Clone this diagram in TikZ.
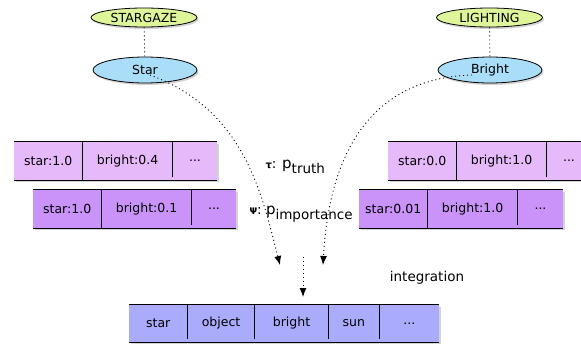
\documentclass[tikz,border=0pt]{standalone}
\usepackage{fontspec}
\setmainfont{DejaVu Sans}
\usetikzlibrary{shapes.geometric,shadows,positioning,arrows.meta,backgrounds}

\definecolor{tagfill}{HTML}{DEF59A}
\definecolor{wordfill}{HTML}{A9DDF8}
\definecolor{rowlight}{HTML}{E6B9FB}
\definecolor{rowdark}{HTML}{C993FA}
\definecolor{intfill}{HTML}{ABABFC}

\begin{document}
\begin{tikzpicture}[x=1pt, y=-1pt,
    every node/.style={font=\fontsize{12.5}{15}\selectfont},
    boxshadow/.style={drop shadow={shadow xshift=1.5pt, shadow yshift=-2pt, opacity=0.35}},
    tag/.style={ellipse, draw, line width=0.8pt, fill=tagfill, boxshadow, inner sep=0pt, minimum width=106pt, minimum height=19pt},
    word/.style={ellipse, draw, line width=0.8pt, fill=wordfill, boxshadow, inner sep=0pt, minimum width=104pt, minimum height=26pt},
    cell/.style={inner sep=0pt, minimum height=38pt},
    rule/.style={line width=1.1pt},
    divider/.style={line width=0.7pt, shorten >=3pt},
    link/.style={line width=0.9pt, dash pattern=on 1pt off 3pt},
    flow/.style={line width=0.9pt, dash pattern=on 1pt off 3pt, -{Latex[length=9pt,width=7pt]}}]
  \useasboundingbox (0,0) rectangle (581,345);
  \clip (0,0) rectangle (581,345);

  \node[tag] (stargaze) at (144,17.5) {STARGAZE};
  \node[tag] (lighting) at (489.5,17.5) {LIGHTING};
  \node[word] (star) at (145,70) {Star};
  \node[word] (bright) at (490,70) {Bright};
  \path[link] (stargaze) edge (star);
  \path[link] (lighting) edge (bright);

  \node[cell, minimum width=68pt, anchor=west] (sa1) at (14,161) {star:1.0};
  \node[cell, minimum width=90pt, right=0pt of sa1] (sa2) {bright:0.4};
  \node[cell, minimum width=44pt, right=0pt of sa2] (sa3) {...};

  \node[cell, minimum width=68pt, anchor=west] (sb1) at (33,209) {star:1.0};
  \node[cell, minimum width=90pt, right=0pt of sb1] (sb2) {bright:0.1};
  \node[cell, minimum width=44pt, right=0pt of sb2] (sb3) {...};

  \node[cell, minimum width=68pt, anchor=west] (la1) at (388,161) {star:0.0};
  \node[cell, minimum width=90pt, right=0pt of la1] (la2) {bright:1.0};
  \node[cell, minimum width=44pt, right=0pt of la2] (la3) {...};

  \node[cell, minimum width=68pt, anchor=west] (lb1) at (359,209) {star:0.01};
  \node[cell, minimum width=90pt, right=0pt of lb1] (lb2) {bright:1.0};
  \node[cell, minimum width=45pt, right=0pt of lb2] (lb3) {...};

  \node[cell, minimum width=58pt, minimum height=37pt, anchor=west] (in1) at (129,323.5) {star};
  \node[cell, minimum width=67pt, minimum height=37pt, right=0pt of in1] (in2) {object};
  \node[cell, minimum width=73pt, minimum height=37pt, right=0pt of in2] (in3) {bright};
  \node[cell, minimum width=51pt, minimum height=37pt, right=0pt of in3] (in4) {sun};
  \node[cell, minimum width=59pt, minimum height=37pt, right=0pt of in4] (in5) {...\hspace{18pt}};

  \begin{scope}[on background layer]
    \fill[rowlight, boxshadow] (sa1.north west) rectangle (sa3.south east);
    \fill[rowdark, boxshadow] (sb1.north west) rectangle (sb3.south east);
    \fill[rowlight, boxshadow] (la1.north west) rectangle (la3.south east);
    \fill[rowdark, boxshadow] (lb1.north west) rectangle (lb3.south east);
    \fill[intfill, boxshadow] (in1.north west) rectangle (in5.south east);
  \end{scope}

  \foreach \r in {sa,sb,la,lb} {
    \draw[rule] (\r1.north west) -- (\r3.north east) (\r1.south west) -- (\r3.south east);
    \draw[divider] (\r1.north east) -- (\r1.south east) (\r2.north east) -- (\r2.south east);
  }
  \draw[rule] (in1.north west) -- (in5.north east) (in1.south west) -- (in5.south east);
  \foreach \c in {1,...,4}
    \draw[divider] (in\c.north east) -- (in\c.south east);

  \node[anchor=west, font=\fontsize{13.5}{16}\selectfont] (truth) at (262,167)
    {{\bfseries\fontsize{10}{12}\selectfont τ}: {\fontsize{15}{16}\selectfont p}\raisebox{-5pt}{truth}};
  \node[anchor=west, font=\fontsize{13.5}{16}\selectfont] (importance) at (246,214)
    {{\bfseries\fontsize{9}{11}\selectfont Ψ}: {\fontsize{15}{16}\selectfont p}\raisebox{-5pt}{importance}};
  \node[font=\fontsize{13.5}{16}\selectfont] (integration) at (427,278) {integration};

  \coordinate (tipl) at (280,265);
  \coordinate (tipr) at (323,265);
  \coordinate (midtop) at (303,257);
  \coordinate (midtip) at (303,297);

  \draw[flow] ([shift={(5pt,-5pt)}]star.center) .. controls (245,110) and (262,195) .. (tipl);
  \draw[flow] ([shift={(-18pt,-5pt)}]bright.center) .. controls (380,78) and (330,140) .. (tipr);
  \draw[flow] (midtop) -- (midtip);
\end{tikzpicture}
\end{document}
